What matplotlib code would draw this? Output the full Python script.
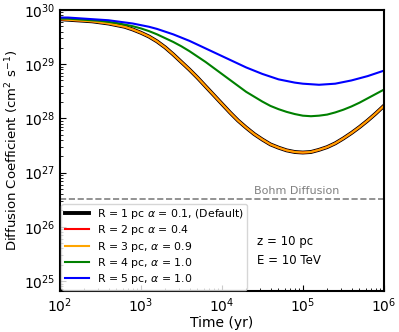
import matplotlib
matplotlib.use("Agg")
import matplotlib.pyplot as plt
import numpy as np

# time grid (log10 yr) and log10 of the diffusion coefficient
log_t = [2.0, 2.1, 2.2, 2.3, 2.4, 2.5, 2.6, 2.7, 2.8, 2.9,
         3.0, 3.1, 3.2, 3.3, 3.4, 3.5, 3.6, 3.7, 3.8, 3.9,
         4.0, 4.1, 4.2, 4.3, 4.4, 4.5, 4.6, 4.7, 4.8, 4.9,
         5.0, 5.1, 5.2, 5.3, 5.4, 5.5, 5.6, 5.7, 5.8, 5.9, 6.0]

logd_r1 = [29.83, 29.82, 29.81, 29.80, 29.79, 29.77, 29.75, 29.72, 29.69, 29.64,
           29.58, 29.51, 29.42, 29.31, 29.18, 29.04, 28.90, 28.75, 28.59, 28.43,
           28.27, 28.11, 27.96, 27.83, 27.71, 27.61, 27.52, 27.46, 27.41, 27.38,
           27.37, 27.38, 27.42, 27.47, 27.54, 27.63, 27.73, 27.84, 27.96, 28.09, 28.23]
# R = 2 and R = 3 sit on top of the default curve
logd_r2 = list(logd_r1)
logd_r3 = list(logd_r1)
logd_r4 = [29.84, 29.84, 29.83, 29.82, 29.81, 29.80, 29.78, 29.76, 29.73, 29.70,
           29.66, 29.61, 29.55, 29.48, 29.41, 29.33, 29.24, 29.14, 29.04, 28.93,
           28.82, 28.71, 28.60, 28.49, 28.40, 28.31, 28.23, 28.17, 28.12, 28.08,
           28.05, 28.04, 28.05, 28.07, 28.11, 28.16, 28.22, 28.29, 28.37, 28.45, 28.53]
logd_r5 = [29.86, 29.86, 29.85, 29.84, 29.83, 29.82, 29.81, 29.79, 29.77, 29.75,
           29.72, 29.69, 29.65, 29.60, 29.55, 29.49, 29.43, 29.36, 29.29, 29.22,
           29.15, 29.08, 29.01, 28.94, 28.88, 28.82, 28.77, 28.72, 28.69, 28.66,
           28.64, 28.63, 28.62, 28.63, 28.64, 28.67, 28.70, 28.74, 28.78, 28.83, 28.88]

labels = [
    r"R = 1 pc $\alpha$ = 0.1, (Default)",
    r"R = 2 pc $\alpha$ = 0.4",
    r"R = 3 pc, $\alpha$ = 0.9",
    r"R = 4 pc, $\alpha$ = 1.0",
    r"R = 5 pc, $\alpha$ = 1.0",
]
colors = ["black", "red", "orange", "green", "blue"]
widths = [2.8, 1.5, 1.5, 1.5, 1.5]

bohm = 3.3e26

t = 10 ** np.array(log_t)

fig = plt.figure(figsize=(3.99, 3.32), dpi=100)
ax = fig.add_axes([0.150, 0.123, 0.812, 0.847])

for logd, lab, c, lw in zip([logd_r1, logd_r2, logd_r3, logd_r4, logd_r5], labels, colors, widths):
    ax.plot(t, 10 ** np.array(logd), color=c, lw=lw, label=lab)

ax.axhline(bohm, color="gray", ls="--", lw=1.2)
ax.text(8.5e4, bohm * 1.12, "Bohm Diffusion", color="gray", fontsize=8, ha="center", va="bottom")

ax.text(0.608, 0.142, "z = 10 pc\nE = 10 TeV", transform=ax.transAxes,
        fontsize=8.5, ha="left", va="center", linespacing=1.6)

ax.set_xscale("log")
ax.set_yscale("log")
ax.set_xlim(1e2, 1e6)
ax.set_ylim(6.5e24, 1e30)
ax.set_xlabel("Time (yr)", fontsize=10, labelpad=1)
ax.set_ylabel(r"Diffusion Coefficient (cm$^2$ s$^{-1}$)", fontsize=9.5, labelpad=2)
ax.tick_params(which="both", direction="in", labelsize=10)
ax.tick_params(which="major", length=4)
ax.tick_params(which="minor", length=2)
for sp in ax.spines.values():
    sp.set_linewidth(1.5)

ax.legend(loc="lower left", fontsize=7.8, handlelength=2.2, borderpad=0.3,
          labelspacing=0.22, borderaxespad=0.15)

fig.savefig("out.png", dpi=100)
